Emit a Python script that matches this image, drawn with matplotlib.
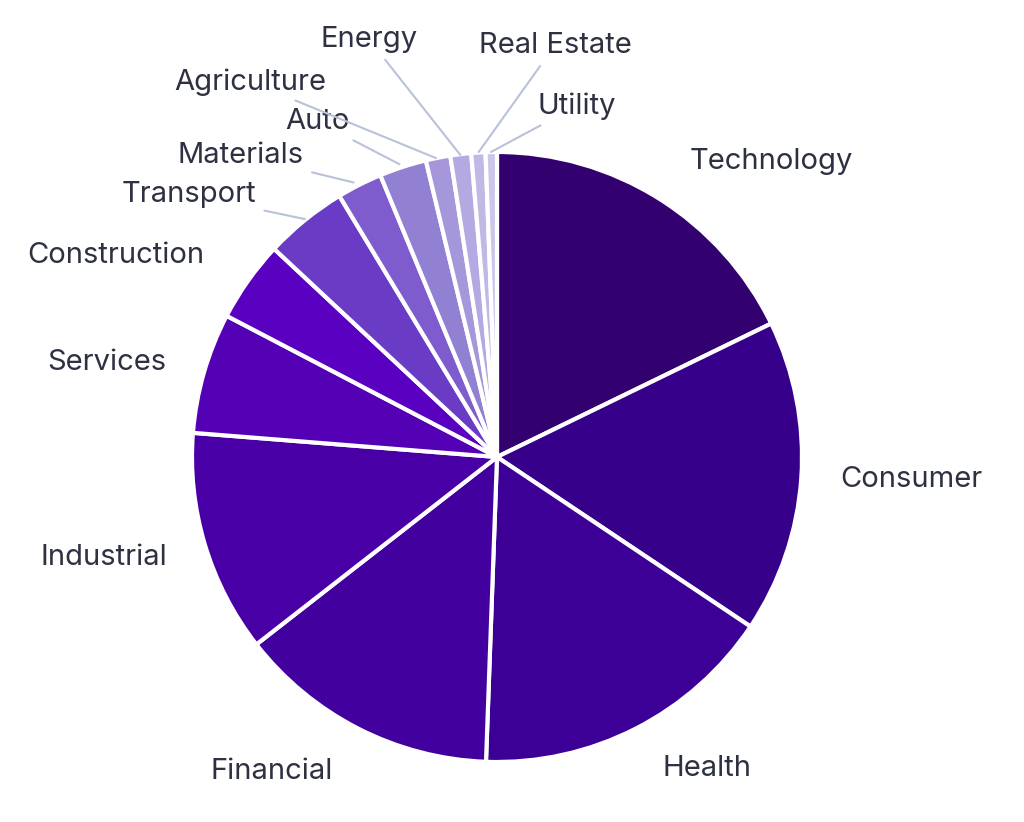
import numpy as np
import matplotlib.pyplot as plt

sectors = ["Technology", "Consumer", "Health", "Financial", "Industrial", "Services",
           "Construction", "Transport", "Materials", "Auto", "Agriculture", "Energy",
           "Real Estate", "Utility"]
shares = [17.8, 16.6, 16.2, 13.9, 11.8, 6.4, 4.3, 4.4, 2.4, 2.5, 1.3, 1.1, 0.75, 0.6]
colors = ["#33006f", "#37008a", "#3c0096", "#42009f", "#4800a6", "#5400b4", "#5a00c0",
          "#6a3bc5", "#7e5ccd", "#9280d3", "#a697db", "#b5a9e1", "#c2b8e6", "#cdc6eb"]

# label positions (data units, pie radius = 1)
label_pos = {
    "Technology": (0.90, 0.97), "Consumer": (1.36, -0.075), "Health": (0.69, -1.02),
    "Financial": (-0.74, -1.03), "Industrial": (-1.29, -0.33), "Services": (-1.28, 0.31),
    "Construction": (-1.25, 0.66),
}
leader_pos = {
    "Transport": ((-1.01, 0.86), (-0.63, 0.78)),
    "Materials": ((-0.84, 0.99), (-0.47, 0.90)),
    "Auto": ((-0.59, 1.10), (-0.32, 0.96)),
    "Agriculture": ((-0.81, 1.23), (-0.20, 0.98)),
    "Energy": ((-0.42, 1.37), (-0.12, 0.99)),
    "Real Estate": ((0.19, 1.35), (-0.06, 1.0)),
    "Utility": ((0.26, 1.15), (-0.02, 1.0)),
}

plt.rcParams['font.family'] = ['Inter', 'DejaVu Sans']
text_color = "#2d3142"

fig = plt.figure(figsize=(10.24, 8.22), dpi=100)
ax = fig.add_axes([(497 - 305) / 1024, (822 - 457 - 305) / 822, 610 / 1024, 610 / 822])
ax.pie(shares, colors=colors, startangle=90, counterclock=False, radius=1,
       wedgeprops=dict(edgecolor="white", linewidth=3))
ax.set_xlim(-1, 1)
ax.set_ylim(-1, 1)
ax.set_aspect("equal")
ax.axis("off")

for name, (x, y) in label_pos.items():
    ax.text(x, y, name, ha="center", va="center", fontsize=21, color=text_color, clip_on=False)

lead_ha = {"Transport": "right", "Materials": "right", "Auto": "right", "Agriculture": "right",
           "Energy": "right", "Real Estate": "center", "Utility": "left"}
for name, ((tx, ty), (px, py)) in leader_pos.items():
    ax.annotate(name, xy=(px, py), xytext=(tx, ty), ha="center", va="center",
                fontsize=21, color=text_color, annotation_clip=False,
                arrowprops=dict(arrowstyle="-", color="#b8c2d8", lw=1.5, shrinkA=4, shrinkB=0))

fig.savefig("out.png", dpi=100)
